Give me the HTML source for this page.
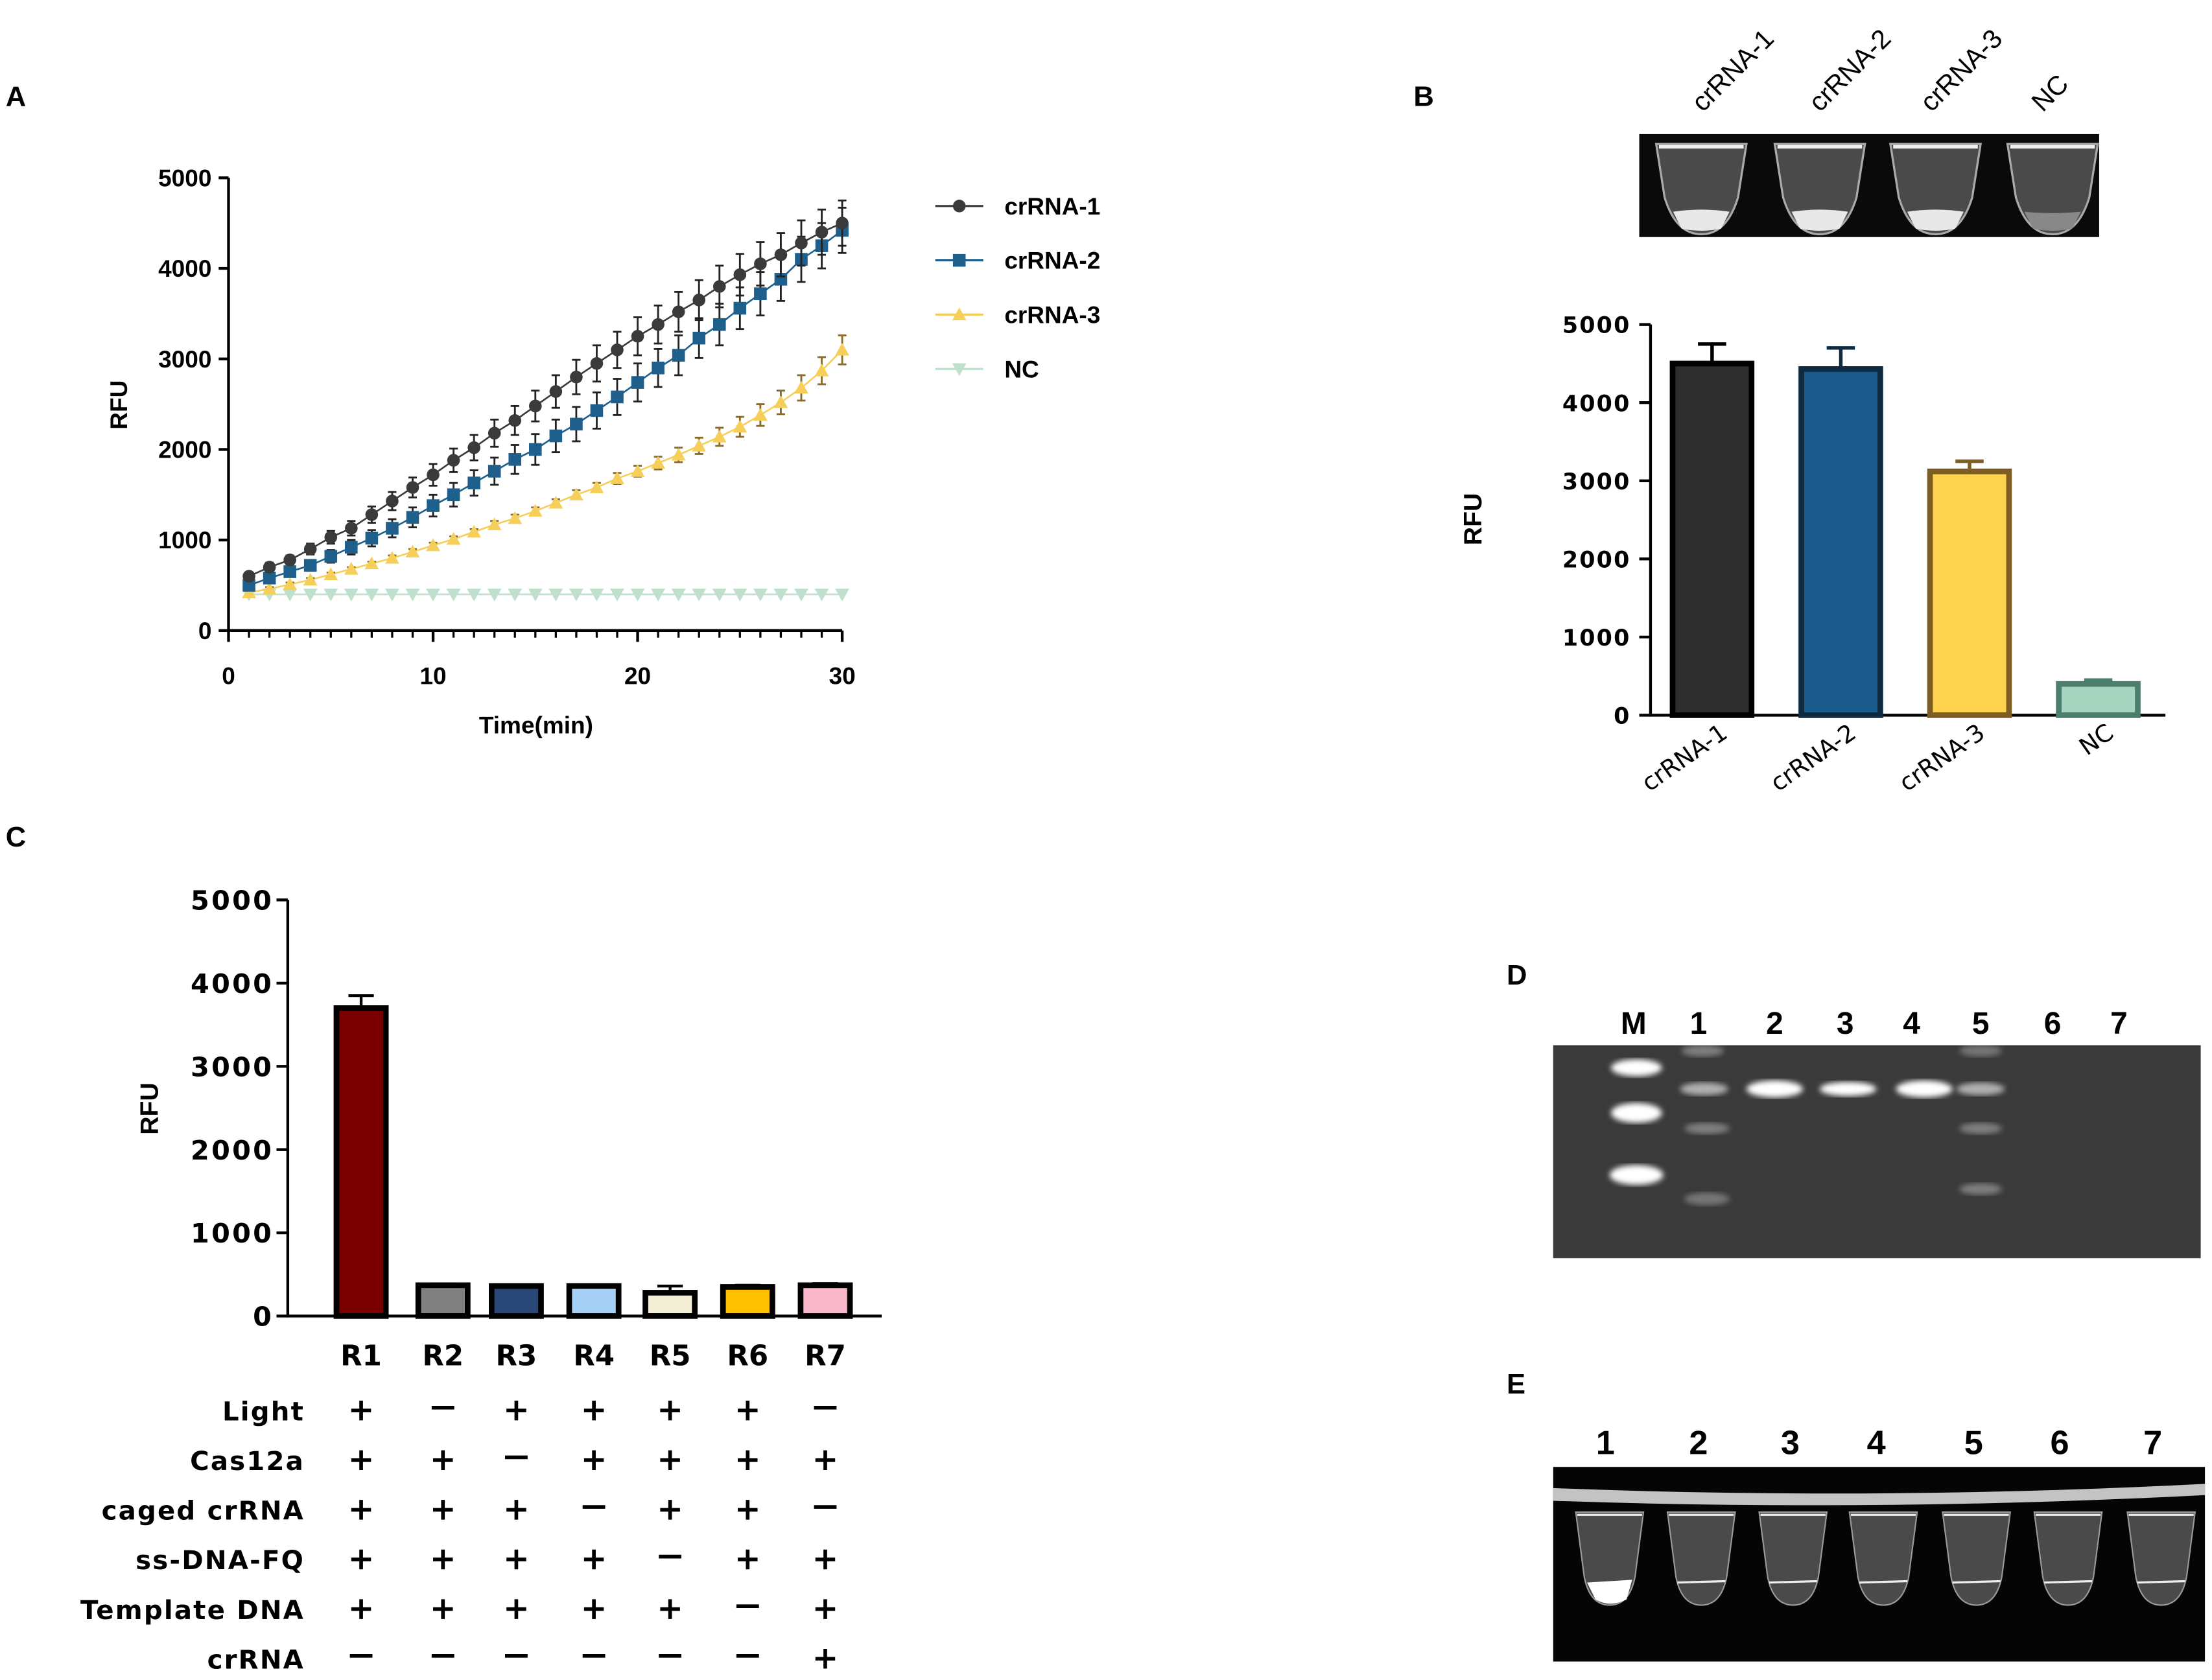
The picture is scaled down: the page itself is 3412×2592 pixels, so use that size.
<!DOCTYPE html>
<html><head><meta charset="utf-8"><style>
html,body{margin:0;padding:0;background:#fff}
svg{display:block}
text{font-family:"Liberation Sans",Arial,sans-serif;font-weight:bold;fill:#000}
.wide{font-family:"DejaVu Sans","Liberation Sans",sans-serif;font-weight:bold}
</style></head><body>
<svg id="fig" xmlns="http://www.w3.org/2000/svg" width="3412" height="2592" viewBox="0 0 1568 1191">
<defs>
<filter id="blur2"><feGaussianBlur stdDeviation="2"/></filter>
</defs>
<g id="panelA"></g>
<g id="panelB"></g>
<g id="panelC"></g>
<g id="panelD"></g>
<g id="panelE"></g>
</svg>
<script>
// ---- Panel A data ----
const aTimes = [1,2,3,4,5,6,7,8,9,10,11,12,13,14,15,16,17,18,19,20,21,22,23,24,25,26,27,28,29,30];
const aSeriesNames = ["crRNA-1","crRNA-2","crRNA-3","NC"];
const aCr1 = [600,700,780,900,1030,1130,1280,1430,1580,1720,1880,2020,2180,2320,2480,2640,2800,2950,3100,3250,3380,3520,3650,3800,3930,4050,4150,4280,4400,4500];
const aCr2 = [500,580,650,720,820,920,1020,1130,1250,1380,1500,1630,1760,1890,2000,2150,2280,2430,2580,2740,2900,3040,3230,3380,3560,3720,3880,4100,4250,4420];
const aCr3 = [420,460,510,560,620,680,740,800,870,940,1010,1090,1170,1240,1320,1410,1500,1580,1680,1760,1850,1940,2040,2140,2250,2380,2520,2680,2870,3100];
const aNC = [400,400,400,400,400,400,400,400,400,400,400,400,400,400,400,400,400,400,400,400,400,400,400,400,400,400,400,400,400,400];
const aErr1 = [40,50,50,60,70,80,90,100,110,120,130,140,150,160,170,180,190,200,200,210,210,220,220,230,230,240,240,250,250,250];
const aErr2 = [40,50,50,60,70,80,90,100,110,120,130,140,150,160,170,180,190,200,200,210,210,220,220,230,230,240,240,250,250,250];
const aErr3 = [20,20,20,20,20,20,20,30,30,30,30,30,40,40,40,40,50,50,60,60,70,80,90,100,110,120,130,140,150,160];
const aXTicks = [0,10,20,30];
const aYTicks = [0,1000,2000,3000,4000,5000];
// ---- Panel B data ----
const bCats = ["crRNA-1","crRNA-2","crRNA-3","NC"];
const bVals = [4500,4430,3120,400];
const bErrs = [250,270,130,50];
const bYTicks = [0,1000,2000,3000,4000,5000];
// ---- Panel C data ----
const cCats = ["R1","R2","R3","R4","R5","R6","R7"];
const cVals = [3700,370,360,360,280,350,370];
const cErrs = [150,15,15,15,80,20,20];
const cYTicks = [0,1000,2000,3000,4000,5000];
const cRows = ["Light","Cas12a","caged crRNA","ss-DNA-FQ","Template DNA","crRNA"];
const cSigns = [
 ["+","−","+","+","+","+","−"],
 ["+","+","−","+","+","+","+"],
 ["+","+","+","−","+","+","−"],
 ["+","+","+","+","−","+","+"],
 ["+","+","+","+","+","−","+"],
 ["−","−","−","−","−","−","+"]];

const NS="http://www.w3.org/2000/svg";
function mk(parent,tag,attrs,txt){const e=document.createElementNS(NS,tag);for(const k in attrs)e.setAttribute(k,attrs[k]);if(txt!==undefined)e.textContent=txt;parent.appendChild(e);return e;}

// ===== Panel A =====
(function(){
const g=document.getElementById('panelA');
const X0=162,X1=597,Y0=447,Y1=126;
const xs=t=>X0+(t/30)*(X1-X0), ys=v=>Y0-(v/5000)*(Y0-Y1);
let t=mk(g,'text',{x:4,y:75,'font-size':20},'A');


let ax=mk(g,'path',{d:`M${X0},${Y1} V${Y0} H${X1}`,stroke:'#000','stroke-width':2,fill:'none'});


aYTicks.forEach(v=>{mk(g,'line',{x1:X0-7,x2:X0,y1:ys(v),y2:ys(v),stroke:'#000','stroke-width':2});
 const l=mk(g,'text',{x:X0-12,y:ys(v)+6,'font-size':17,'text-anchor':'end'},v);
 
 });
for(let i=0;i<=30;i++){mk(g,'line',{x1:xs(i),x2:xs(i),y1:Y0,y2:Y0+(i%10==0?8:5),stroke:'#000','stroke-width':i%10==0?2:1.5});}
aXTicks.forEach(v=>{const l=mk(g,'text',{x:xs(v),y:Y0+38,'font-size':17,'text-anchor':'middle'},v);
 
 });
let yt=mk(g,'text',{x:0,y:0,'font-size':17,'text-anchor':'middle',transform:`translate(90,287) rotate(-90)`},'RFU');


let xt=mk(g,'text',{x:380,y:520,'font-size':17,'text-anchor':'middle'},'Time(min)');


const series=[[aCr1,aErr1,'#3a3a3a','circle'],[aCr2,aErr2,'#1f5f8b','square'],[aCr3,aErr3,'#f5cf5a','tri'],[aNC,null,'#bfe0cc','tridown']];
function marker(p,shape,x,y,c){
 if(shape=='circle')return mk(p,'circle',{cx:x,cy:y,r:4.5,fill:c});
 if(shape=='square')return mk(p,'rect',{x:x-4.5,y:y-4.5,width:9,height:9,fill:c});
 if(shape=='tri')return mk(p,'path',{d:`M${x},${y-5} L${x+5},${y+4} L${x-5},${y+4}Z`,fill:c});
 return mk(p,'path',{d:`M${x},${y+5} L${x+5},${y-4} L${x-5},${y-4}Z`,fill:c});
}
[3,2,1,0].forEach(si=>{const [vals,errs,c,sh]=series[si];
 const sg=mk(g,'g',{});
 
 
 mk(sg,'polyline',{points:aTimes.map((tt,i)=>xs(tt)+','+ys(vals[i])).join(' '),fill:'none',stroke:c,'stroke-width':1.2});
 aTimes.forEach((tt,i)=>{
  if(errs){const ec=si==2?'#8a6a2a':'#222';
   mk(sg,'line',{x1:xs(tt),x2:xs(tt),y1:ys(vals[i]+errs[i]),y2:ys(vals[i]-errs[i]),stroke:ec,'stroke-width':1.3});
   mk(sg,'line',{x1:xs(tt)-3,x2:xs(tt)+3,y1:ys(vals[i]+errs[i]),y2:ys(vals[i]+errs[i]),stroke:ec,'stroke-width':1.3});
   mk(sg,'line',{x1:xs(tt)-3,x2:xs(tt)+3,y1:ys(vals[i]-errs[i]),y2:ys(vals[i]-errs[i]),stroke:ec,'stroke-width':1.3});}
  const m=marker(sg,sh,xs(tt),ys(vals[i]),c);
  
  
 });});
aSeriesNames.forEach((n,i)=>{const y=146+i*38.5;const lg=mk(g,'g',{});
 
 
 mk(lg,'line',{x1:663,x2:697,y1:y,y2:y,stroke:series[i][2],'stroke-width':1.5});
 marker(lg,series[i][3],680,y,series[i][2]);
 mk(lg,'text',{x:712,y:y+6,'font-size':17},n);});
})();

// ===== Panel B =====
(function(){
const g=document.getElementById('panelB');
const X0=1170,X1=1535,Y0=507,Y1=230;
const ys=v=>Y0-(v/5000)*(Y0-Y1);
let t=mk(g,'text',{x:1002,y:75,'font-size':20},'B');


const img=mk(g,'g',{});


mk(img,'rect',{x:1162,y:95,width:326,height:73,fill:'#0a0a0a'});
[1206,1290,1372,1455].forEach((cx,i)=>{
 mk(img,'path',{d:`M${cx-32},${102} L${cx+32},${102} L${cx+26},${140} Q${cx+18},${166} ${cx},${166} Q${cx-18},${166} ${cx-26},${140}Z`,fill:'#4a4a4a',stroke:'#aaa','stroke-width':1.5});
 mk(img,'line',{x1:cx-30,x2:cx+30,y1:104,y2:104,stroke:'#eee','stroke-width':2.5});
 mk(img,'path',{d:`M${cx-20},${150} Q${cx},${i==3?152:147} ${cx+20},${150} L${cx+14},${162} Q${cx},${165} ${cx-14},${162}Z`,fill:i==3?'#888':'#e8e8e8'});
});
['crRNA-1','crRNA-2','crRNA-3','NC'].forEach((n,i)=>{const cx=[1225,1308,1387,1466][i];
 const l=mk(g,'text',{x:0,y:0,'font-size':19,transform:`translate(${cx-18},${80}) rotate(-45)`},n);
 l.style.fontWeight='normal';
 
 });
const ax=mk(g,'path',{d:`M${X0},${Y1} V${Y0} H${X1}`,stroke:'#000','stroke-width':2,fill:'none'});


bYTicks.forEach(v=>{mk(g,'line',{x1:X0-8,x2:X0,y1:ys(v),y2:ys(v),stroke:'#000','stroke-width':2});
 const l=mk(g,'text',{x:X0-14,y:ys(v)+6,'font-size':16,'text-anchor':'end','letter-spacing':1,class:'wide'},v);
 
 });
const yt=mk(g,'text',{x:0,y:0,'font-size':18,'text-anchor':'middle',transform:'translate(1050,368) rotate(-90)'},'RFU');


const fills=['#2d2d2d','#1b5b8c','#fdd24e','#a7d4bf'],strokes=['#000','#0e2a40','#7d5d22','#4c7e6e'];
const step=(X1-X0)/4;
bCats.forEach((c,i)=>{const cx=X0+step*(i+0.5)-2,w=56;
 const bar=mk(g,'rect',{x:cx-w/2,y:ys(bVals[i]),width:w,height:Y0-ys(bVals[i]),fill:fills[i],stroke:strokes[i],'stroke-width':4});
 
 
 const ey=ys(bVals[i]+bErrs[i]);
 mk(g,'path',{d:`M${cx},${ys(bVals[i])} V${ey} M${cx-10},${ey} H${cx+10}`,stroke:strokes[i],'stroke-width':2.5,fill:'none'});
 const l=mk(g,'text',{x:0,y:0,'font-size':17,'text-anchor':'end',transform:`translate(${cx+12},${522}) rotate(-35)`,class:'wide'},c);
 l.style.fontWeight='normal';
 
 });
})();

// ===== Panel C =====
(function(){
const g=document.getElementById('panelC');
const X0=204,X1=625,Y0=933,Y1=638;
const ys=v=>Y0-(v/5000)*(Y0-Y1);
let t=mk(g,'text',{x:4,y:600,'font-size':20},'C');


const ax=mk(g,'path',{d:`M${X0},${Y1} V${Y0} H${X1}`,stroke:'#000','stroke-width':2,fill:'none'});


cYTicks.forEach(v=>{mk(g,'line',{x1:X0-8,x2:X0,y1:ys(v),y2:ys(v),stroke:'#000','stroke-width':2});
 const l=mk(g,'text',{x:X0-10,y:ys(v)+7,'font-size':19,'text-anchor':'end','letter-spacing':1.5,class:'wide'},v);
 
 });
const yt=mk(g,'text',{x:0,y:0,'font-size':18,'text-anchor':'middle',transform:'translate(112,786) rotate(-90)'},'RFU');


const fills=['#7a0000','#808080','#2a4877','#a7d0f6','#f2efd6','#ffc000','#f8b8c9'];
const centers=[256,314,366,421,475,530,585];
cCats.forEach((c,i)=>{const cx=centers[i],w=35;
 const bar=mk(g,'rect',{x:cx-w/2,y:ys(cVals[i]),width:w,height:Y0-ys(cVals[i]),fill:fills[i],stroke:'#000','stroke-width':4});
 
 
 const ey=ys(cVals[i]+cErrs[i]);
 mk(g,'path',{d:`M${cx},${ys(cVals[i])} V${ey} M${cx-9},${ey} H${cx+9}`,stroke:'#000','stroke-width':2,fill:'none'});
 const l=mk(g,'text',{x:cx,y:968,'font-size':20,'text-anchor':'middle',class:'wide'},c);
 
 });
cRows.forEach((r,ri)=>{const y=1007+ri*35.2;
 const l=mk(g,'text',{x:216,y:y,'font-size':18.5,'text-anchor':'end','letter-spacing':1,class:'wide'},r);
 
 
 cSigns[ri].forEach((s,ci)=>{const cx=centers[ci];
  let sg;
  if(s=='+'){sg=mk(g,'path',{d:`M${cx-7},${y-7} H${cx+7} M${cx},${y-14} V${y}`,stroke:'#000','stroke-width':2.6,fill:'none'});}
  else{sg=mk(g,'line',{x1:cx-8,x2:cx+8,y1:y-9,y2:y-9,stroke:'#000','stroke-width':2.6});}
  
  });});
})();

// ===== Panel D =====
(function(){
const g=document.getElementById('panelD');
let t=mk(g,'text',{x:1068,y:698,'font-size':20},'D');


const lanes=['M','1','2','3','4','5','6','7'],lx=[1158,1204,1258,1308,1355,1404,1455,1502];
lanes.forEach((n,i)=>{const l=mk(g,'text',{x:lx[i],y:733,'font-size':22,'text-anchor':'middle'},n);
 
 });
const gel=mk(g,'rect',{x:1101,y:741,width:459,height:151,fill:'#3a3a3a'});


const bands=[[1160,757,36,12,1],[1160,789,36,14,1],[1160,833,38,14,1],[1207,745,30,8,.35],[1208,772,34,9,.6],[1210,800,32,8,.35],[1210,850,32,9,.3],[1258,772,40,12,1],[1310,772,40,10,1],[1364,772,40,12,1],[1404,745,30,8,.3],[1404,772,34,9,.6],[1404,800,30,8,.35],[1404,843,30,8,.35]];
bands.forEach(b=>{mk(g,'ellipse',{cx:b[0],cy:b[1],rx:b[2]/2,ry:b[3]/2,fill:'#fff',opacity:b[4],filter:'url(#blur2)'});});
})();

// ===== Panel E =====
(function(){
const g=document.getElementById('panelE');
let t=mk(g,'text',{x:1068,y:988,'font-size':20},'E');


const lx=[1138,1204,1269,1330,1399,1460,1526];
lx.forEach((x,i)=>{const l=mk(g,'text',{x:x,y:1031,'font-size':24,'text-anchor':'middle'},String(i+1));
 
 });
const im=mk(g,'rect',{x:1101,y:1040,width:462,height:138,fill:'#050505'});


mk(g,'path',{d:'M1101,1055 Q1330,1064 1563,1052 L1563,1060 Q1330,1072 1101,1064Z',fill:'#d8d8d8',opacity:.9});
[1141,1206,1271,1335,1401,1466,1532].forEach((cx,i)=>{
 mk(g,'path',{d:`M${cx-24},1072 L${cx+24},1072 L${cx+18},1118 Q${cx+14},1138 ${cx},1138 Q${cx-14},1138 ${cx-18},1118Z`,fill:'#4a4a4a',stroke:'#999','stroke-width':1});
 mk(g,'line',{x1:cx-23,x2:cx+23,y1:1074,y2:1074,stroke:'#eee','stroke-width':1.5});
 if(i==0){mk(g,'path',{d:`M${cx-16},1122 L${cx+16},1120 L${cx+12},1134 Q${cx},1140 ${cx-10},1134Z`,fill:'#fff'});}
 else{mk(g,'line',{x1:cx-17,x2:cx+17,y1:1122,y2:1121,stroke:'#eee','stroke-width':1.5});}
});
})();
</script>
</body></html>
